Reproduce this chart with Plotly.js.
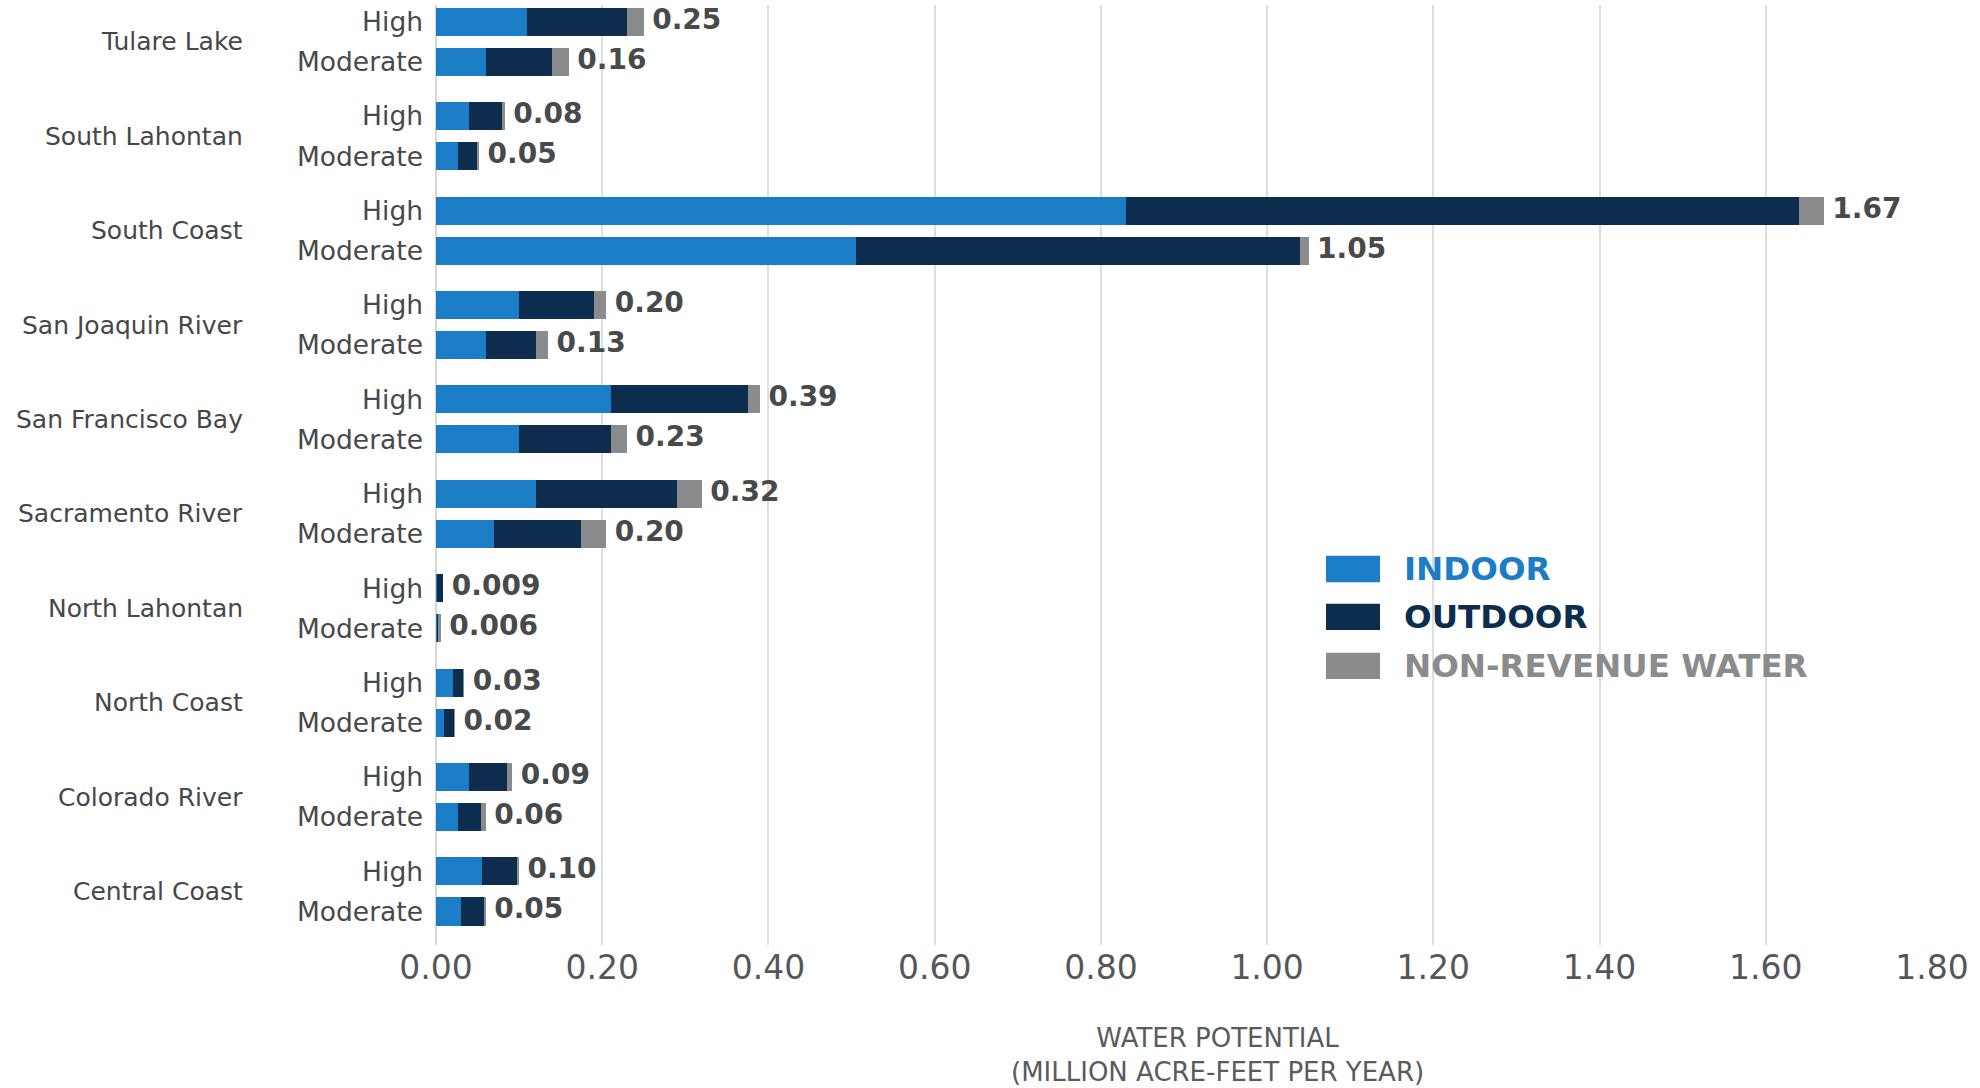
<!DOCTYPE html>
<html>
<head>
<meta charset="utf-8">
<script src="https://cdn.plot.ly/plotly-3.0.1.min.js"></script>
<style>
  html, body { margin: 0; padding: 0; background: #ffffff; }
  #chart { width: 1980px; height: 1088px; }
</style>
</head>
<body>
<div id="chart"></div>
<script>
// Regions, listed top to bottom as in the chart
const regions = ["Tulare Lake", "South Lahontan", "South Coast", "San Joaquin River",
  "San Francisco Bay", "Sacramento River", "North Lahontan", "North Coast",
  "Colorado River", "Central Coast"];
const levels = ["High", "Moderate"];

// Values (million acre-feet per year), per region: [High, Moderate]
const indoor = [[0.11, 0.06], [0.04, 0.027], [0.83, 0.505], [0.10, 0.06],
  [0.21, 0.10], [0.12, 0.07], [0.001, 0.001], [0.02, 0.01],
  [0.04, 0.027], [0.055, 0.03]];
const outdoor = [[0.12, 0.08], [0.04, 0.022], [0.81, 0.535], [0.09, 0.06],
  [0.165, 0.11], [0.17, 0.105], [0.007, 0.001], [0.013, 0.012],
  [0.045, 0.027], [0.043, 0.028]];
const nonRevenue = [[0.02, 0.02], [0.003, 0.003], [0.03, 0.01], [0.015, 0.015],
  [0.015, 0.02], [0.03, 0.03], [0.001, 0.004], [0.001, 0.001],
  [0.007, 0.006], [0.002, 0.002]];
const totalLabels = [["0.25", "0.16"], ["0.08", "0.05"], ["1.67", "1.05"], ["0.20", "0.13"],
  ["0.39", "0.23"], ["0.32", "0.20"], ["0.009", "0.006"], ["0.03", "0.02"],
  ["0.09", "0.06"], ["0.10", "0.05"]];

const seriesNames = ["INDOOR", "OUTDOOR", "NON-REVENUE WATER"];
const seriesColors = ["#1a7dc5", "#0d2d4f", "#898b8d"];
const tickValsX = [0, 0.2, 0.4, 0.6, 0.8, 1.0, 1.2, 1.4, 1.6, 1.8];

// Build positions: region index from the bottom, High above Moderate
const n = regions.length;
const offset = [0.212, -0.212];
const ys = [], yTickText = [], flat = {ind: [], out: [], nrw: [], lab: [], tot: []};
regions.forEach((r, i) => {
  levels.forEach((lv, j) => {
    ys.push((n - 1 - i) + offset[j]);
    yTickText.push(lv);
    flat.ind.push(indoor[i][j]);
    flat.out.push(outdoor[i][j]);
    flat.nrw.push(nonRevenue[i][j]);
    flat.lab.push(totalLabels[i][j]);
    flat.tot.push(indoor[i][j] + outdoor[i][j] + nonRevenue[i][j]);
  });
});

const FONT = "DejaVu Sans, Liberation Sans, sans-serif";
const barW = 0.297;
const seriesData = [flat.ind, flat.out, flat.nrw];
const traces = seriesData.map((vals, k) => ({
  type: "bar", orientation: "h", name: seriesNames[k],
  x: vals, y: ys, width: barW,
  marker: {color: seriesColors[k], line: {width: 0}},
  hoverinfo: "x+name", showlegend: false
}));

// Total labels at bar ends
traces.push({
  type: "scatter", mode: "text", x: flat.tot, y: ys,
  text: flat.lab.map(t => "\u2009\u200a" + t), textposition: "middle right",
  textfont: {family: FONT, size: 28, color: "#48494b", weight: 700},
  cliponaxis: false, hoverinfo: "skip", showlegend: false
});

const annotations = regions.map((r, i) => ({
  text: r, xref: "paper", yref: "y", x: 0, y: n - 1 - i,
  xanchor: "right", yanchor: "middle", xshift: -191, showarrow: false,
  font: {family: FONT, size: 25, color: "#46474a"}
}));

// Axis title (two lines)
annotations.push({
  text: "WATER POTENTIAL<br>(MILLION ACRE-FEET PER YEAR)",
  xref: "paper", yref: "paper", x: 0.5227, y: 0, yshift: -76,
  xanchor: "center", yanchor: "top", showarrow: false, align: "center",
  font: {family: FONT, size: 26, color: "#5a5b5d"}
});

// Legend (drawn manually to match the large swatches)
const shapes = [];
const legY = [0.4, 0.349, 0.297];
seriesNames.forEach((nm, k) => {
  shapes.push({
    type: "rect", xref: "paper", yref: "paper",
    x0: (1326 - 436) / 1496, x1: (1380 - 436) / 1496,
    y0: legY[k] - 0.014, y1: legY[k] + 0.014,
    fillcolor: seriesColors[k], line: {width: 0}, layer: "above"
  });
  annotations.push({
    text: nm, xref: "paper", yref: "paper",
    x: (1402 - 436) / 1496, y: legY[k], xanchor: "left", yanchor: "middle",
    showarrow: false, bgcolor: "rgba(255,255,255,0)",
    font: {family: FONT, size: 32.5, color: seriesColors[k], weight: 700}
  });
});

const layout = {
  width: 1980, height: 1088,
  margin: {l: 436, r: 48, t: 5, b: 143},
  paper_bgcolor: "#ffffff", plot_bgcolor: "#ffffff",
  barmode: "stack", bargap: 0,
  showlegend: false,
  xaxis: {
    range: [0, 1.8], tickvals: tickValsX,
    ticktext: tickValsX.map(v => v.toFixed(2)),
    showgrid: true, gridcolor: "#dedede", gridwidth: 2,
    zeroline: true, zerolinecolor: "#d6d6d6", zerolinewidth: 2,
    showline: false, ticks: "", ticklabelstandoff: 0,
    tickfont: {family: FONT, size: 33, color: "#555659"}
  },
  yaxis: {
    range: [-0.567, 9.39], tickvals: ys, ticktext: yTickText,
    showgrid: false, zeroline: false, showline: false, ticks: "",
    ticklabelstandoff: 12,
    tickfont: {family: FONT, size: 26.5, color: "#48494b"}
  },
  shapes: shapes,
  annotations: annotations
};

Plotly.newPlot("chart", traces, layout, {displayModeBar: false, staticPlot: true});
</script>
</body>
</html>
